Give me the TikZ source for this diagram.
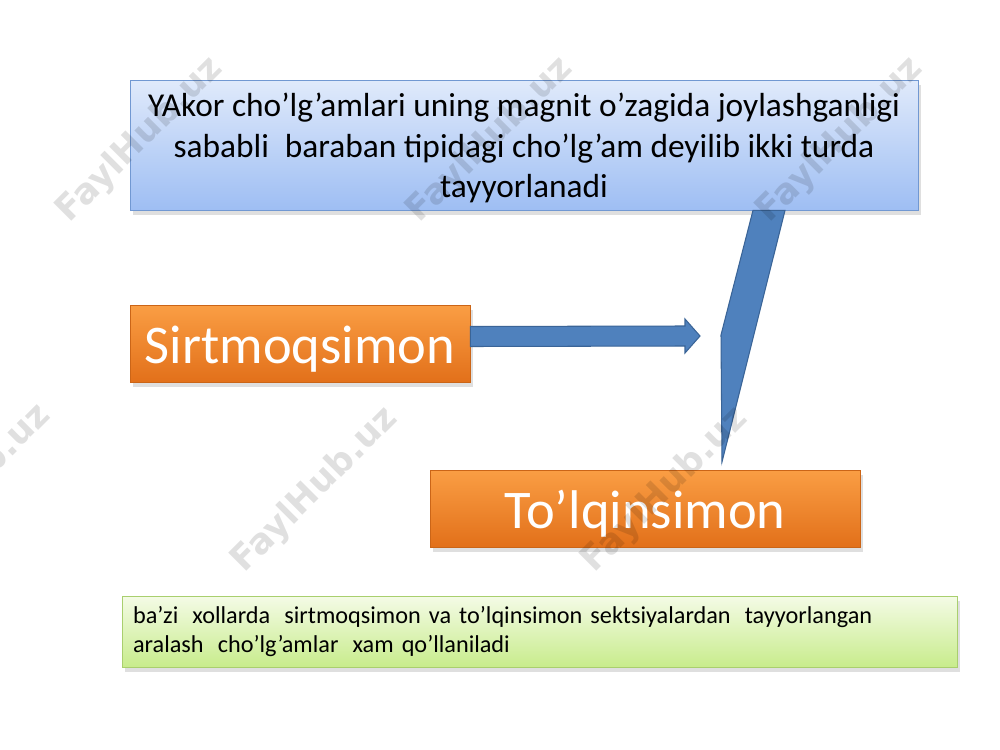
\documentclass[tikz,border=0pt]{standalone}
\usepackage{fontspec}
\setmainfont{Carlito}
\newfontfamily\wmfont{DejaVu Sans}
\usetikzlibrary{shadows, calc}
\definecolor{skyTop}{HTML}{E0EAFB}
\definecolor{skyBot}{HTML}{9EBEF3}
\definecolor{skyEdge}{HTML}{7198D2}
\definecolor{orTop}{HTML}{FA9E44}
\definecolor{orBot}{HTML}{E2701A}
\definecolor{limeTop}{HTML}{F4FBE6}
\definecolor{limeBot}{HTML}{C8EC8C}
\definecolor{limeEdge}{HTML}{A9CF6E}
\definecolor{arrFill}{HTML}{4F81BD}
\definecolor{arrEdge}{HTML}{3A6497}
\newcommand{\gap}{\hspace{0.25em} }

\begin{document}
\begin{tikzpicture}[x=0.02cm, y=-0.02cm,
    boxshadow/.style={drop shadow={shadow xshift=0.6mm, shadow yshift=-1mm, opacity=0.25}},
    topbox/.style={draw=skyEdge, top color=skyTop, bottom color=skyBot, boxshadow,
      minimum width=15.76cm, minimum height=2.6cm, inner sep=0pt, align=center,
      font=\fontsize{19}{23}\selectfont},
    kindbox/.style={draw=orBot!90!black, top color=orTop, bottom color=orBot, boxshadow,
      minimum height=1.54cm, inner sep=0pt, text height=29pt, text depth=6pt,
      text=white, font=\fontsize{31}{36}\selectfont},
    notebox/.style={draw=limeEdge, top color=limeTop, bottom color=limeBot, boxshadow,
      minimum height=1.42cm, inner xsep=0.22cm, inner ysep=0pt, text width=16.26cm, align=left,
      font=\fontsize{13.8}{16.8}\selectfont},
    fatarrow/.style={draw=arrEdge, fill=arrFill, line width=0.6pt, line join=miter},
    watermark/.style={rotate=45, text=black, opacity=0.12, font=\wmfont\bfseries\fontsize{20}{24}\selectfont}]
  \clip (0,0) rectangle (1000,750);
  \fill[white] (0,0) rectangle (1000,750);

  % boxes
  \node[topbox] (yakor) at (524,145)
    {\rule{0pt}{17pt}YAkor cho’lg’amlari uning magnit o’zagida joylashganligi\\
     sababli\gap baraban tipidagi cho’lg’am deyilib ikki turda\\
     tayyorlanadi};
  \node[kindbox, minimum width=6.8cm] (sirt) at (300,343.5) {Sirtmoqsimon};
  \node[kindbox, minimum width=8.6cm] (tolq) at (645,508.5) {To’lqinsimon};
  \node[notebox] (note) at (539.5,631.5)
    {ba’zi\gap xollarda\gap sirtmoqsimon va to’lqinsimon sektsiyalardan\gap tayyorlangan\\
     aralash\gap cho’lg’amlar\gap xam qo’llaniladi};

  % arrows
  \coordinate (sirtTip) at (700,336);
  \draw[fatarrow] ($(sirt.east)+(0,-17)$) -- ($(sirtTip)+(-15,-10)$) -- ($(sirtTip)+(-15,-17)$)
    -- (sirtTip) -- ($(sirtTip)+(-15,17)$) -- ($(sirtTip)+(-15,10)$) -- ($(sirt.east)+(0,3)$) -- cycle;
  \coordinate (tolqTip) at (722,462);
  \draw[fatarrow] (yakor.south -| 753,0) -- (yakor.south -| 785,0) -- (tolqTip) -- (721,335) -- cycle;

  % watermarks
  \foreach \wx/\wy in {140/140, 490/140, 840/140, -32/487, 315/490, 665/490}
    \node[watermark] at (\wx,\wy) {FaylHub.uz};
\end{tikzpicture}
\end{document}
